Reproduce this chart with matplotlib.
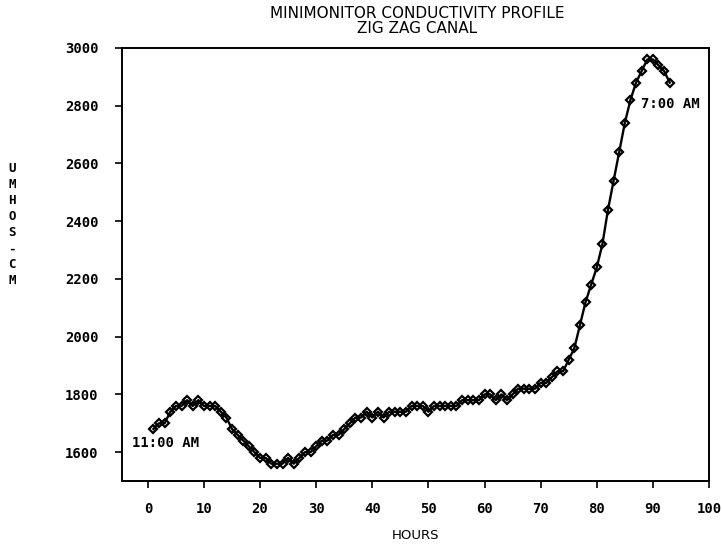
import numpy as np
import matplotlib.pyplot as plt

# hourly conductivity readings, hour 1 = 11:00 AM, hour 93 = 7:00 AM
hours = np.arange(1, 94)
umhos = [1680, 1700, 1700, 1740, 1760, 1760, 1780, 1760, 1780, 1760,
         1760, 1760, 1740, 1720, 1680, 1660, 1640, 1620, 1600, 1580,
         1580, 1560, 1560, 1560, 1580, 1560, 1580, 1600, 1600, 1620,
         1640, 1640, 1660, 1660, 1680, 1700, 1720, 1720, 1740, 1720,
         1740, 1720, 1740, 1740, 1740, 1740, 1760, 1760, 1760, 1740,
         1760, 1760, 1760, 1760, 1760, 1780, 1780, 1780, 1780, 1800,
         1800, 1780, 1800, 1780, 1800, 1820, 1820, 1820, 1820, 1840,
         1840, 1860, 1880, 1880, 1920, 1960, 2040, 2120, 2180, 2240,
         2320, 2440, 2540, 2640, 2740, 2820, 2880, 2920, 2960, 2960,
         2940, 2920, 2880]

xticks = np.arange(0, 101, 10)
yticks = np.arange(1600, 3001, 200)

mono = 'DejaVu Sans Mono'

fig = plt.figure(figsize=(7.22, 5.51), dpi=100)
ax = fig.add_axes([0.169, 0.127, 0.813, 0.786])

ax.plot(hours, umhos, color='black', lw=1.7, marker='D', ms=4.2,
        mfc='none', mec='black', mew=1.6)

ax.set_xlim(-4.6, 99.5)
ax.set_ylim(1500, 3000)
ax.set_xticks(xticks)
ax.set_yticks(yticks)
ax.tick_params(direction='out', length=5, width=1.2, color='black')
ax.tick_params(axis='y', pad=12)
ax.tick_params(axis='x', pad=10)
for lab in ax.get_xticklabels() + ax.get_yticklabels():
    lab.set_family(mono)
    lab.set_fontweight('bold')
    lab.set_fontsize(10)
for sp in ax.spines.values():
    sp.set_linewidth(1.4)

ax.text(-2.9, 1631, '11:00 AM', family=mono, fontweight='bold',
        fontsize=10, va='center', ha='left')
ax.text(87.9, 2805, '7:00 AM', family=mono, fontweight='bold',
        fontsize=10, va='center', ha='left')

fig.text(0.578, 0.962, 'MINIMONITOR CONDUCTIVITY PROFILE\nZIG ZAG CANAL',
         family='DejaVu Sans Condensed', fontsize=11, ha='center',
         va='center', linespacing=1.0)
fig.text(0.017, 0.592, 'U\nM\nH\nO\nS\n-\nC\nM', family=mono,
         fontweight='bold', fontsize=9, ha='center', va='center',
         linespacing=1.3)
fig.text(0.575, 0.028, 'HOURS', family='DejaVu Sans', fontsize=9.5,
         ha='center', va='center')

fig.savefig('out.png', dpi=100)
